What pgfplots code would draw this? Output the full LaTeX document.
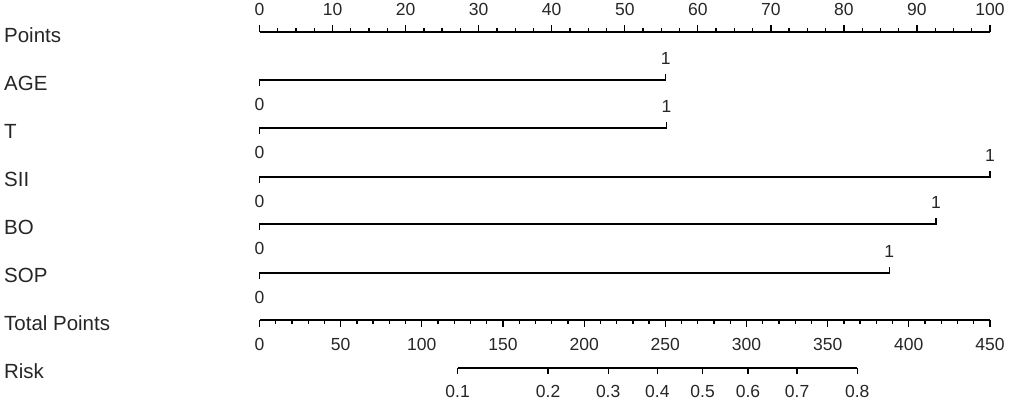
\documentclass[border=0pt]{standalone}
\usepackage{fontspec}
\setmainfont{Liberation Sans}
\usepackage{pgfplots}
\pgfplotsset{compat=1.18}
\begin{document}
\begin{tikzpicture}
\pgfplotsset{
 nomo/.style={scale only axis, height=10pt, ymin=0, ymax=1, axis y line=none,
   tick align=outside, major tick length=7pt, minor tick length=4pt,
   every tick/.style={black, line width=1.3pt},
   axis line style={black, line width=1.3pt},
   ticklabel style={font=\fontsize{17.5}{19}\selectfont, text=black!85},
   /pgf/number format/assume math mode=true, clip=false}
}
% variable rows (x in points 0..100, y in picture rows)
\begin{axis}[at={(0,0)}, anchor=south west, scale only axis, width=1011pt, height=403pt,
  xmin=-35.52, xmax=102.87, ymin=-403, ymax=0, hide axis, clip=false]
\addplot[black, line width=1.3pt] coordinates {(0,-86) (0,-80) (55.6,-80) (55.6,-74)};
\addplot[black, line width=1.3pt] coordinates {(0,-134) (0,-128) (55.7,-128) (55.7,-122)};
\addplot[black, line width=1.3pt] coordinates {(0,-183) (0,-177) (100,-177) (100,-171)};
\addplot[black, line width=1.3pt] coordinates {(0,-230) (0,-224) (92.6,-224) (92.6,-218)};
\addplot[black, line width=1.3pt] coordinates {(0,-279) (0,-273) (86.2,-273) (86.2,-267)};
\begin{scope}[every node/.style={font=\fontsize{17.5}{19}\selectfont, text=black!85, inner sep=0pt}]
\node at (axis cs:55.6,-58) {1};
\node at (axis cs:0,-104) {0};
\node at (axis cs:55.7,-106) {1};
\node at (axis cs:0,-152) {0};
\node at (axis cs:100,-155) {1};
\node at (axis cs:0,-201) {0};
\node at (axis cs:92.6,-202) {1};
\node at (axis cs:0,-248) {0};
\node at (axis cs:86.2,-251) {1};
\node at (axis cs:0,-297) {0};
\end{scope}
\begin{scope}[every node/.style={font=\fontsize{20.5}{24}\selectfont, text=black!85, inner sep=0pt, anchor=west}]
\node at (axis cs:-34.98,-35) {Points};
\node at (axis cs:-34.98,-83) {AGE};
\node at (axis cs:-34.98,-131) {T};
\node at (axis cs:-34.98,-179) {SII};
\node at (axis cs:-34.98,-227) {BO};
\node at (axis cs:-34.98,-275) {SOP};
\node at (axis cs:-34.98,-323) {Total Points};
\node at (axis cs:-34.98,-371) {Risk};
\end{scope}
\end{axis}
% Points scale
\begin{axis}[nomo, at={(259.5pt,371pt)}, anchor=north west, width=730.5pt,
  axis x line*=top, xmin=0, xmax=100, xtick={0,10,...,100}, minor tick num=3,
  xticklabel shift=6pt]
\end{axis}
% Total points scale
\begin{axis}[nomo, at={(259.5pt,83pt)}, anchor=south west, width=730.5pt,
  axis x line*=bottom, xmin=0, xmax=450, xtick={0,50,...,450}, minor tick num=4,
  xticklabel shift=8pt]
\end{axis}
% Risk scale (positions in total points)
\begin{axis}[nomo, at={(457.6pt,35pt)}, anchor=south west, width=399.6pt,
  axis x line*=bottom, xmin=122.05, xmax=368.2, major tick length=6pt,
  xticklabel shift=8pt,
  xtick={122.05,177.8,214.8,245.1,273.0,300.9,331.2,368.2},
  xticklabels={0.1,0.2,0.3,0.4,0.5,0.6,0.7,0.8}]
\end{axis}
\pgfresetboundingbox
\useasboundingbox (0pt,0pt) rectangle (1011pt,403pt);
\end{tikzpicture}
\end{document}
